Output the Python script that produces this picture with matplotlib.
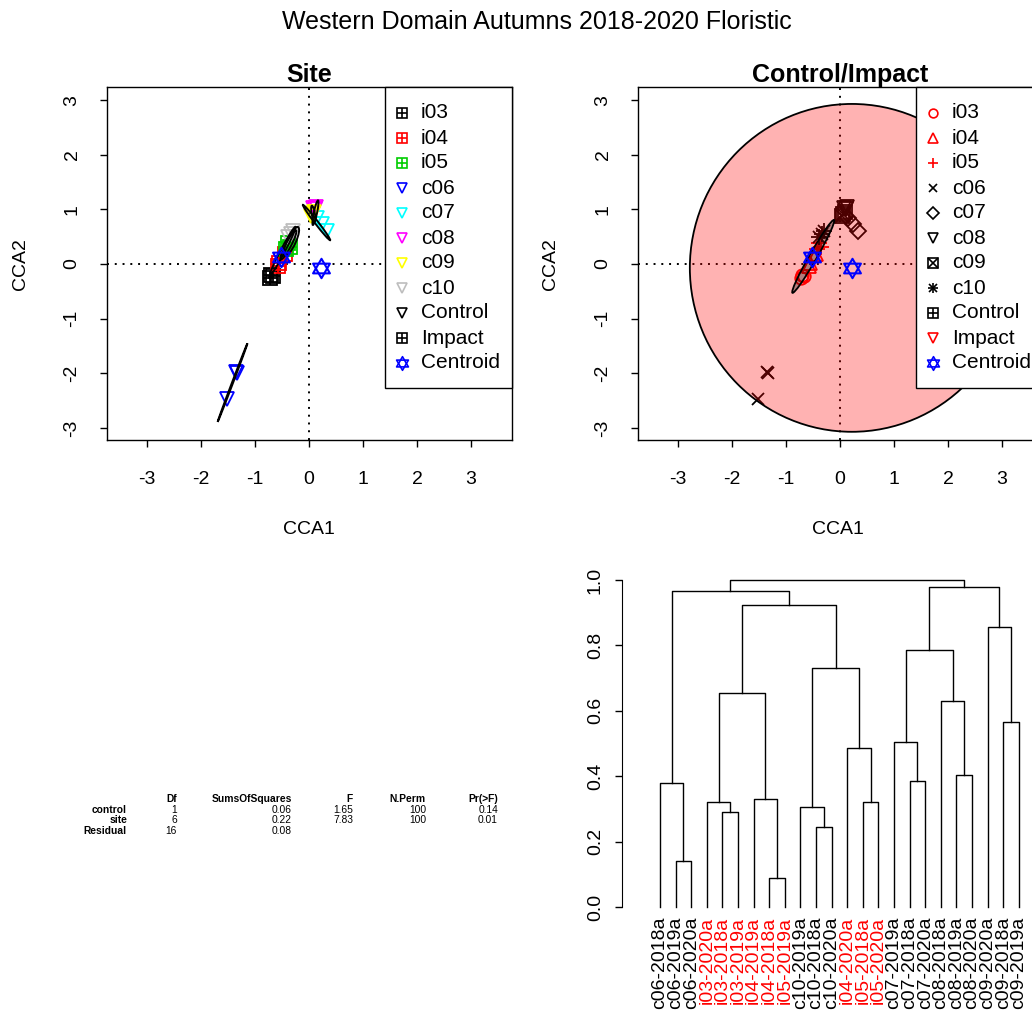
import numpy as np
import matplotlib
matplotlib.use("Agg")
import matplotlib.pyplot as plt
from matplotlib.patches import Ellipse
from matplotlib.path import Path

plt.rcParams['font.family'] = ['Liberation Sans', 'DejaVu Sans']
plt.rcParams['axes.unicode_minus'] = False

# ---- data ----
sites = ['i03', 'i04', 'i05', 'c06', 'c07', 'c08', 'c09', 'c10']
site_colors = ['black', 'red', '#00CD00', 'blue', 'cyan', 'magenta', 'yellow', '#BEBEBE']
site_pch = ['circle', 'tri_up', 'plus', 'cross', 'diamond', 'tri_down', 'sqx', 'asterisk']

# CCA scores, 3 autumns per site (2018, 2019, 2020)
cca1 = [-0.72, -0.70, -0.67,  -0.58, -0.55, -0.45,  -0.42, -0.38, -0.35,
        -1.36, -1.34, -1.52,   0.15,  0.25,  0.34,   0.08,  0.11,  0.13,
         0.06,  0.10,  0.04,  -0.33, -0.30, -0.38]
cca2 = [-0.25, -0.20, -0.22,  -0.03,  0.02,  0.18,   0.28,  0.38,  0.32,
        -1.97, -1.99, -2.47,   0.85,  0.74,  0.60,   1.02,  1.00,  1.04,
         0.92,  0.95,  0.88,   0.55,  0.60,  0.50]
sample_site = [s for s in sites for _ in range(3)]

# site ellipses: centre x, centre y, semi-major, semi-minor, angle
site_ell_x = [-0.70, -0.485, -0.38, -1.415, 0.14, 0.12, 0.08, -0.325]
site_ell_y = [-0.22, 0.24, 0.35, -2.17, 0.76, 0.94, 0.92, 0.415]
site_ell_a = [0.05, 0.50, 0.30, 0.77, 0.41, 0.23, 0.15, 0.29]
site_ell_b = [0.02, 0.04, 0.05, 0.01, 0.03, 0.03, 0.03, 0.08]
site_ell_ang = [45, 62, 62, 69, -52, 78, 100, 65]

# group (Control / Impact) ellipses and centroids
groups = ['Impact', 'Control']
grp_ell_x = [-0.495, 0.22]
grp_ell_y = [0.14, -0.07]
grp_ell_a = [0.77, 3.0]
grp_ell_b = [0.07, 3.0]
grp_ell_ang = [60, 0]
cent_x = [-0.52, 0.22]
cent_y = [0.13, -0.07]

# PERMANOVA table
tab_rows = ['control', 'site', 'Residual']
tab_cols = ['Df', 'SumsOfSquares', 'F', 'N.Perm', 'Pr(>F)']
tab_vals = [['1', '0.06', '1.65', '100', '0.14'],
            ['6', '0.22', '7.83', '100', '0.01'],
            ['16', '0.08', '', '', '']]

# dendrogram: leaves in plotted order, merges (R hclust style: -k leaf, +k merge row)
leaves = ['c06-2018a', 'c06-2019a', 'c06-2020a', 'i03-2020a', 'i03-2018a', 'i03-2019a',
          'i04-2019a', 'i04-2018a', 'i05-2019a', 'c10-2019a', 'c10-2018a', 'c10-2020a',
          'i04-2020a', 'i05-2018a', 'i05-2020a', 'c07-2019a', 'c07-2018a', 'c07-2020a',
          'c08-2018a', 'c08-2019a', 'c08-2020a', 'c09-2020a', 'c09-2018a', 'c09-2019a']
merge_a = [-2, -1, -5, -4, -8, -7, 4, -11, -10, -14, -13, 9, 7, 2,
           -17, -16, -20, -19, 16, -23, -22, 19, 14]
merge_b = [-3, 1, -6, 3, -9, 5, 6, -12, 8, -15, 10, 11, 12, 13,
           -18, 15, -21, 17, 18, -24, 20, 21, 22]
merge_h = [0.14, 0.38, 0.29, 0.32, 0.09, 0.33, 0.655, 0.245, 0.305, 0.32, 0.485, 0.73,
           0.925, 0.965, 0.385, 0.505, 0.405, 0.63, 0.785, 0.565, 0.855, 0.98, 1.0]

W, H = 1032, 1015
fig = plt.figure(figsize=(W / 100, H / 100), dpi=100)

# hexagram halves (R pch 11)
tri_up_star = Path([(0, 1), (-0.866, -0.5), (0.866, -0.5), (0, 1)], closed=True)
tri_dn_star = Path([(0, -1), (-0.866, 0.5), (0.866, 0.5), (0, -1)], closed=True)


def px_axes(x0, y0, x1, y1):
    return fig.add_axes([x0 / W, 1 - y1 / H, (x1 - x0) / W, (y1 - y0) / H])


def pch(ax, x, y, kind, color, ms, mew=1.3, **kw):
    # rough equivalents of R plotting symbols
    parts = {'sqplus': [('s', 1.0), ('+', 1.0)],
             'tri_down': [('v', 1.0)],
             'tri_up': [('^', 1.0)],
             'star': [(tri_up_star, 1.4), (tri_dn_star, 1.4)],
             'circle': [('o', 0.9)],
             'plus': [('+', 1.1)],
             'cross': [('x', 0.9)],
             'diamond': [('D', 0.85)],
             'sqx': [('s', 1.0), ('x', 1.0)],
             'asterisk': [('+', 1.1), ('x', 0.9)]}[kind]
    for m, f in parts:
        ax.plot(x, y, linestyle='none', marker=m, markersize=ms * f,
                markerfacecolor='none', markeredgecolor=color, markeredgewidth=mew, **kw)


def style_ord(ax, title):
    ax.set_xlim(-3.74, 3.76)
    ax.set_ylim(-3.22, 3.24)
    ax.set_xticks([-3, -2, -1, 0, 1, 2, 3])
    ax.set_yticks([-3, -2, -1, 0, 1, 2, 3])
    ax.set_yticklabels(['-3', '-2', '-1', '0', '1', '2', '3'], rotation=90, va='center')
    ax.tick_params(direction='out', length=5, width=1, labelsize=14)
    ax.tick_params(axis='x', pad=17)
    ax.tick_params(axis='y', pad=14)
    for s in ax.spines.values():
        s.set_linewidth(1)
    ax.axhline(0, color='black', lw=1.4, ls=(0, (1, 3)), zorder=1)
    ax.axvline(0, color='black', lw=1.4, ls=(0, (1, 3)), zorder=1)
    ax.set_title(title, fontsize=18, fontweight='bold', pad=2.5)


def legend_box(ax, labels, kinds, colors):
    # R-style legend in the top-right corner, built in pixel offsets
    axw, axh = 405, 353
    bx0 = axw - 127
    ax.add_patch(plt.Rectangle((bx0 / axw, 1 - 301 / axh), 127 / axw, 301 / axh,
                               transform=ax.transAxes, facecolor='white',
                               edgecolor='black', lw=1, zorder=10, clip_on=False))
    for i, (lab, k, c) in enumerate(zip(labels, kinds, colors)):
        yy = 1 - (26 + 25 * i) / axh
        pch(ax, (bx0 + 17) / axw, yy, k, c, 7, mew=1.2, transform=ax.transAxes,
            zorder=11, clip_on=False)
        ax.text((bx0 + 36) / axw, yy, lab, transform=ax.transAxes, fontsize=15,
                va='center', ha='left', zorder=11)


# ---- Site plot ----
ax1 = px_axes(107, 87, 512, 440)
style_ord(ax1, 'Site')
for s, c in zip(sites, site_colors):
    xs = [x for x, ss in zip(cca1, sample_site) if ss == s]
    ys = [y for y, ss in zip(cca2, sample_site) if ss == s]
    pch(ax1, xs, ys, 'sqplus' if s[0] == 'i' else 'tri_down', c, 9.5, zorder=3)
for i in range(len(sites)):
    ax1.add_patch(Ellipse((site_ell_x[i], site_ell_y[i]), 2 * site_ell_a[i], 2 * site_ell_b[i],
                          angle=site_ell_ang[i], fill=False, edgecolor='black', lw=1.4, zorder=4))
pch(ax1, cent_x, cent_y, 'star', 'blue', 10, mew=1.5, zorder=5)
legend_box(ax1, sites + ['Control', 'Impact', 'Centroid'],
           ['sqplus'] * 3 + ['tri_down'] * 5 + ['tri_down', 'sqplus', 'star'],
           site_colors + ['black', 'black', 'blue'])

# ---- Control/Impact plot ----
ax2 = px_axes(638, 87, 1043, 440)
style_ord(ax2, 'Control/Impact')
for s, k in zip(sites, site_pch):
    xs = [x for x, ss in zip(cca1, sample_site) if ss == s]
    ys = [y for y, ss in zip(cca2, sample_site) if ss == s]
    pch(ax2, xs, ys, k, 'red' if s[0] == 'i' else 'black', 10, zorder=2)
fills = [('black', 0.3), ('red', 0.3)]
for i in [1, 0]:
    ax2.add_patch(Ellipse((grp_ell_x[i], grp_ell_y[i]), 2 * grp_ell_a[i], 2 * grp_ell_b[i],
                          angle=grp_ell_ang[i], facecolor=fills[i][0], alpha=fills[i][1],
                          edgecolor='none', zorder=3))
    ax2.add_patch(Ellipse((grp_ell_x[i], grp_ell_y[i]), 2 * grp_ell_a[i], 2 * grp_ell_b[i],
                          angle=grp_ell_ang[i], fill=False, edgecolor='black', lw=1.3, zorder=4))
pch(ax2, cent_x, cent_y, 'star', 'blue', 10, mew=1.5, zorder=5)
legend_box(ax2, sites + ['Control', 'Impact', 'Centroid'],
           site_pch + ['sqplus', 'tri_down', 'star'],
           ['red'] * 3 + ['black'] * 6 + ['red', 'blue'])

# axis labels and main title
for cx in (309, 838):
    fig.text(cx / W, 1 - 530 / H, 'CCA1', ha='center', va='center', fontsize=14)
for cx in (20, 550):
    fig.text(cx / W, 1 - 264 / H, 'CCA2', ha='center', va='center', fontsize=14, rotation=90)
fig.text(537 / W, 1 - 22 / H, 'Western Domain Autumns 2018-2020 Floristic',
         ha='center', va='center', fontsize=18)

# ---- PERMANOVA table ----
col_x = [177, 292, 353, 426, 498]
row_y = [810, 820, 831]
fs_tab = 7.4
for j, c in enumerate(tab_cols):
    fig.text(col_x[j] / W, 1 - 799 / H, c, ha='right', va='center', fontsize=fs_tab, fontweight='bold')
for i, r in enumerate(tab_rows):
    fig.text(127 / W, 1 - row_y[i] / H, r, ha='right', va='center', fontsize=fs_tab, fontweight='bold')
    for j, v in enumerate(tab_vals[i]):
        fig.text(col_x[j] / W, 1 - row_y[i] / H, v, ha='right', va='center', fontsize=fs_tab)

# ---- dendrogram ----
ax3 = px_axes(622, 580, 1032, 907)
n = len(leaves)
ax3.set_xlim(1 - 38 / 15.6, 1 + (1032 - 660) / 15.6)
ax3.set_ylim(0, 1.0)
node_x, node_h = [], []
for a, b, h in zip(merge_a, merge_b, merge_h):
    xa, ha_ = (-a, 0.0) if a < 0 else (node_x[a - 1], node_h[a - 1])
    xb, hb = (-b, 0.0) if b < 0 else (node_x[b - 1], node_h[b - 1])
    ax3.plot([xa, xa, xb, xb], [ha_, h, h, hb], color='black', lw=1, clip_on=False)
    node_x.append((xa + xb) / 2)
    node_h.append(h)
for i, lab in enumerate(leaves):
    ax3.text(i + 1, -0.03, lab, rotation=90, ha='center', va='top', fontsize=14,
             color='red' if lab[0] == 'i' else 'black', clip_on=False)
for s in ['top', 'right', 'bottom']:
    ax3.spines[s].set_visible(False)
ax3.spines['left'].set_bounds(0, 1)
ax3.set_xticks([])
ax3.set_yticks([0, 0.2, 0.4, 0.6, 0.8, 1.0])
ax3.set_yticklabels(['0.0', '0.2', '0.4', '0.6', '0.8', '1.0'], rotation=90, va='center')
ax3.tick_params(direction='out', length=5, width=1, labelsize=14, pad=8)
ax3.patch.set_visible(False)

fig.savefig('out.png', dpi=100)
